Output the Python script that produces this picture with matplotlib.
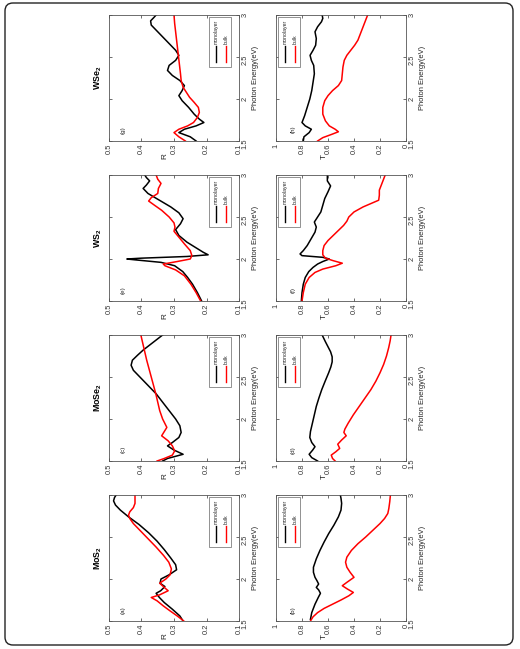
"""R and T spectra of monolayer vs bulk TMDs, drawn as a page turned 90 degrees.
Output : out.png
"""
import matplotlib
matplotlib.use("Agg")
import matplotlib.pyplot as plt
from matplotlib import font_manager
from matplotlib.lines import Line2D
from matplotlib.patches import Rectangle, FancyBboxPatch

names = {f.name for f in font_manager.fontManager.ttflist}
NARROW = "Liberation Sans Narrow" in names
FAM = "Liberation Sans Narrow" if NARROW else "Liberation Sans"
K = 1.0 if NARROW else 0.84
plt.rcParams.update({"font.family": [FAM, "DejaVu Sans"], "mathtext.fontset": "custom",
                     "mathtext.rm": FAM, "mathtext.bf": FAM + ":bold"})

# ---- data (energy in eV) ----
materials = [r"$\mathbf{MoS_2}$", r"$\mathbf{MoSe_2}$", r"$\mathbf{WS_2}$", r"$\mathbf{WSe_2}$"]
letters = [("(a)", "(b)"), ("(c)", "(d)"), ("(e)", "(f)"), ("(g)", "(h)")]

mos2_r_mono_e = [1.50, 1.56, 1.64, 1.72, 1.78, 1.83, 1.86, 1.91, 1.95, 2.00, 2.05, 2.11, 2.17, 2.25,
                 2.35, 2.45, 2.55, 2.65, 2.74, 2.82, 2.88, 2.93, 2.97, 3.00]
mos2_r_mono = [0.272, 0.282, 0.305, 0.330, 0.345, 0.355, 0.341, 0.328, 0.343, 0.340, 0.315, 0.292,
               0.295, 0.310, 0.330, 0.352, 0.378, 0.408, 0.440, 0.465, 0.480, 0.486, 0.483, 0.478]
mos2_r_bulk_e = [1.50, 1.56, 1.62, 1.68, 1.74, 1.78, 1.81, 1.86, 1.90, 1.95, 2.00, 2.05, 2.12, 2.20,
                 2.28, 2.38, 2.48, 2.58, 2.66, 2.72, 2.76, 2.80, 2.85, 2.90, 2.95, 3.00]
mos2_r_bulk = [0.270, 0.290, 0.312, 0.333, 0.352, 0.370, 0.345, 0.318, 0.330, 0.344, 0.325, 0.312,
               0.308, 0.316, 0.332, 0.355, 0.380, 0.405, 0.425, 0.436, 0.440, 0.436, 0.425, 0.420,
               0.420, 0.420]
mos2_t_mono_e = [1.52, 1.60, 1.70, 1.78, 1.83, 1.87, 1.90, 1.94, 1.98, 2.02, 2.08, 2.14, 2.24, 2.34,
                 2.44, 2.54, 2.64, 2.74, 2.82, 2.90, 2.96, 3.00]
mos2_t_mono = [0.735, 0.725, 0.700, 0.675, 0.658, 0.672, 0.690, 0.672, 0.685, 0.700, 0.712, 0.712,
               0.690, 0.662, 0.630, 0.595, 0.555, 0.520, 0.500, 0.495, 0.500, 0.505]
mos2_t_bulk_e = [1.50, 1.55, 1.60, 1.65, 1.70, 1.75, 1.80, 1.84, 1.88, 1.92, 1.96, 2.02, 2.08, 2.14,
                 2.20, 2.26, 2.34, 2.42, 2.50, 2.58, 2.66, 2.72, 2.78, 2.84, 2.92, 3.00]
mos2_t_bulk = [0.735, 0.715, 0.680, 0.630, 0.565, 0.500, 0.440, 0.405, 0.450, 0.490, 0.455, 0.400,
               0.430, 0.455, 0.465, 0.455, 0.420, 0.370, 0.310, 0.255, 0.200, 0.165, 0.140, 0.132,
               0.125, 0.120]

mose2_r_mono_e = [1.50, 1.53, 1.58, 1.63, 1.68, 1.72, 1.78, 1.84, 1.92, 2.00, 2.10, 2.20, 2.30, 2.40,
                  2.50, 2.58, 2.64, 2.70, 2.76, 2.82, 2.88, 2.94, 3.00]
mose2_r_mono = [0.335, 0.320, 0.272, 0.300, 0.320, 0.305, 0.285, 0.278, 0.282, 0.295, 0.315, 0.335,
                0.355, 0.380, 0.405, 0.425, 0.432, 0.428, 0.412, 0.395, 0.375, 0.355, 0.335]
mose2_r_bulk_e = [1.50, 1.53, 1.57, 1.62, 1.68, 1.74, 1.80, 1.85, 1.90, 2.00, 2.10, 2.20, 2.30, 2.40,
                  2.50, 2.60, 2.70, 2.80, 2.90, 3.00]
mose2_r_bulk = [0.352, 0.330, 0.305, 0.298, 0.305, 0.318, 0.338, 0.330, 0.322, 0.335, 0.344, 0.350,
                0.356, 0.363, 0.370, 0.377, 0.384, 0.390, 0.396, 0.402]
mose2_t_mono_e = [1.50, 1.54, 1.58, 1.63, 1.67, 1.72, 1.78, 1.85, 1.95, 2.05, 2.15, 2.25, 2.35, 2.45,
                  2.55, 2.62, 2.68, 2.74, 2.80, 2.86, 2.92, 3.00]
mose2_t_mono = [0.680, 0.725, 0.745, 0.718, 0.700, 0.725, 0.740, 0.735, 0.720, 0.705, 0.690, 0.670,
                0.648, 0.622, 0.595, 0.578, 0.568, 0.568, 0.580, 0.600, 0.620, 0.645]
mose2_t_bulk_e = [1.50, 1.53, 1.57, 1.61, 1.65, 1.70, 1.75, 1.80, 1.84, 1.88, 1.95, 2.05, 2.15, 2.25,
                  2.35, 2.45, 2.55, 2.65, 2.75, 2.85, 2.93, 3.00]
mose2_t_bulk = [0.545, 0.565, 0.575, 0.540, 0.510, 0.525, 0.495, 0.460, 0.478, 0.470, 0.445, 0.405,
                0.360, 0.315, 0.270, 0.232, 0.200, 0.172, 0.150, 0.133, 0.122, 0.115]

ws2_r_mono_e = [1.50, 1.60, 1.70, 1.78, 1.85, 1.92, 1.96, 1.99, 2.00, 2.01, 2.03, 2.05, 2.08, 2.14,
                2.20, 2.28, 2.35, 2.42, 2.48, 2.55, 2.62, 2.70, 2.78, 2.84, 2.88, 2.93, 2.97, 3.00]
ws2_r_mono = [0.215, 0.228, 0.243, 0.258, 0.273, 0.298, 0.340, 0.420, 0.445, 0.400, 0.260, 0.195,
              0.210, 0.235, 0.260, 0.285, 0.295, 0.280, 0.272, 0.285, 0.310, 0.345, 0.380, 0.395,
              0.385, 0.375, 0.385, 0.390]
ws2_r_bulk_e = [1.50, 1.60, 1.70, 1.80, 1.87, 1.92, 1.94, 1.97, 2.00, 2.04, 2.10, 2.18, 2.26, 2.33,
                2.38, 2.43, 2.50, 2.58, 2.64, 2.69, 2.73, 2.78, 2.84, 2.90, 2.95, 3.00]
ws2_r_bulk = [0.218, 0.232, 0.248, 0.268, 0.295, 0.328, 0.333, 0.290, 0.250, 0.245, 0.250, 0.268,
              0.285, 0.300, 0.297, 0.300, 0.315, 0.338, 0.360, 0.378, 0.370, 0.350, 0.348, 0.340,
              0.350, 0.355]
ws2_t_mono_e = [1.50, 1.60, 1.70, 1.78, 1.85, 1.90, 1.94, 1.97, 2.00, 2.02, 2.04, 2.06, 2.10, 2.16,
                2.24, 2.32, 2.38, 2.44, 2.50, 2.56, 2.64, 2.72, 2.80, 2.87, 2.93, 3.00]
ws2_t_mono = [0.805, 0.800, 0.790, 0.775, 0.748, 0.715, 0.680, 0.640, 0.590, 0.640, 0.800, 0.815,
              0.790, 0.760, 0.730, 0.700, 0.690, 0.705, 0.680, 0.655, 0.640, 0.625, 0.600, 0.580,
              0.605, 0.605]
ws2_t_bulk_e = [1.50, 1.60, 1.70, 1.78, 1.84, 1.88, 1.92, 1.95, 1.98, 2.01, 2.05, 2.10, 2.16, 2.22,
                2.28, 2.34, 2.40, 2.45, 2.50, 2.56, 2.62, 2.66, 2.70, 2.76, 2.82, 2.88, 2.94, 3.00]
ws2_t_bulk = [0.800, 0.790, 0.775, 0.745, 0.700, 0.640, 0.540, 0.490, 0.560, 0.620, 0.640, 0.640,
              0.630, 0.600, 0.560, 0.520, 0.480, 0.455, 0.440, 0.400, 0.330, 0.270, 0.210, 0.205,
              0.205, 0.190, 0.175, 0.160]

wse2_r_mono_e = [1.50, 1.55, 1.60, 1.64, 1.68, 1.72, 1.76, 1.82, 1.90, 1.98, 2.04, 2.10, 2.16, 2.22,
                 2.28, 2.34, 2.40, 2.46, 2.52, 2.58, 2.64, 2.72, 2.80, 2.88, 2.93, 2.97, 3.00]
wse2_r_mono = [0.232, 0.250, 0.285, 0.268, 0.232, 0.208, 0.222, 0.238, 0.255, 0.275, 0.285, 0.275,
               0.268, 0.282, 0.305, 0.320, 0.315, 0.295, 0.285, 0.295, 0.310, 0.330, 0.350, 0.370,
               0.372, 0.362, 0.355]
wse2_r_bulk_e = [1.50, 1.55, 1.60, 1.64, 1.68, 1.72, 1.78, 1.84, 1.90, 1.96, 2.02, 2.08, 2.14, 2.22,
                 2.30, 2.40, 2.50, 2.60, 2.70, 2.80, 2.90, 3.00]
wse2_r_bulk = [0.265, 0.285, 0.300, 0.285, 0.258, 0.240, 0.228, 0.222, 0.225, 0.238, 0.252, 0.262,
               0.272, 0.278, 0.280, 0.283, 0.286, 0.289, 0.292, 0.295, 0.298, 0.300]
wse2_t_mono_e = [1.50, 1.55, 1.60, 1.64, 1.68, 1.72, 1.80, 1.90, 2.00, 2.10, 2.20, 2.30, 2.40, 2.46,
                 2.52, 2.58, 2.64, 2.72, 2.80, 2.86, 2.92, 2.96, 3.00]
wse2_t_mono = [0.790, 0.785, 0.745, 0.728, 0.775, 0.800, 0.780, 0.760, 0.740, 0.725, 0.715, 0.705,
               0.710, 0.728, 0.738, 0.715, 0.695, 0.690, 0.700, 0.680, 0.650, 0.640, 0.645]
wse2_t_bulk_e = [1.50, 1.54, 1.58, 1.61, 1.64, 1.68, 1.74, 1.82, 1.90, 1.98, 2.04, 2.10, 2.16, 2.22,
                 2.30, 2.38, 2.46, 2.52, 2.58, 2.64, 2.70, 2.78, 2.86, 2.94, 3.00]
wse2_t_bulk = [0.680, 0.640, 0.570, 0.520, 0.545, 0.590, 0.620, 0.640, 0.640, 0.625, 0.600, 0.565,
               0.520, 0.495, 0.490, 0.485, 0.475, 0.455, 0.425, 0.395, 0.370, 0.350, 0.330, 0.310,
               0.295]

curves = [
    ((mos2_r_mono_e, mos2_r_mono, mos2_r_bulk_e, mos2_r_bulk),
     (mos2_t_mono_e, mos2_t_mono, mos2_t_bulk_e, mos2_t_bulk)),
    ((mose2_r_mono_e, mose2_r_mono, mose2_r_bulk_e, mose2_r_bulk),
     (mose2_t_mono_e, mose2_t_mono, mose2_t_bulk_e, mose2_t_bulk)),
    ((ws2_r_mono_e, ws2_r_mono, ws2_r_bulk_e, ws2_r_bulk),
     (ws2_t_mono_e, ws2_t_mono, ws2_t_bulk_e, ws2_t_bulk)),
    ((wse2_r_mono_e, wse2_r_mono, wse2_r_bulk_e, wse2_r_bulk),
     (wse2_t_mono_e, wse2_t_mono, wse2_t_bulk_e, wse2_t_bulk)),
]
r_ticks = [0.5, 0.4, 0.3, 0.2, 0.1]
t_ticks = [1, 0.8, 0.6, 0.4, 0.2, 0]
t_ticklabels = ["1", "0.8", "0.6", "0.4", "0.2", "0"]
e_ticks = [1.5, 2, 2.5, 3]
e_ticklabels = ["1.5", "2", "2.5", "3"]

W, H = 520, 649
fig = plt.figure(figsize=(W / 100, H / 100), dpi=100)
fig.patches.append(FancyBboxPatch((0.05, 0.04), 5.08, 6.42, boxstyle="round,pad=0,rounding_size=0.08",
                                  transform=fig.dpi_scale_trans, fill=False, ec="#222222", lw=1.0))

ROW_TOP = [495, 335, 175, 15]     # pixel top of each material's pair, MoS2 at the bottom
COL_LEFT = [109, 276]             # R panel, T panel
PW, PH = 130, 126
GRAY = "#555555"


def legend(ax, x0):
    ax.add_patch(Rectangle((x0, 0.59), 0.17, 0.395, transform=ax.transAxes, fill=True, fc="white",
                           ec="#666666", lw=0.5, zorder=5))
    for dx, col, lab in ((0.055, "k", "monolayer"), (0.13, "#ff0000", "bulk")):
        ax.add_line(Line2D([x0 + dx, x0 + dx], [0.625, 0.755], color=col, lw=1.0,
                           transform=ax.transAxes, zorder=6))
        ax.text(x0 + dx, 0.772, lab, rotation=90, ha="center", va="bottom", fontsize=4.4 * K,
                transform=ax.transAxes, zorder=6, color="#222222")


for i in range(4):
    for j in range(2):
        left = COL_LEFT[j] / W
        bottom = 1 - (ROW_TOP[i] + PH) / H
        ax = fig.add_axes([left, bottom, PW / W, PH / H])
        e1, v1, e2, v2 = curves[i][j]
        ax.plot(v1, e1, color="k", lw=1.1)
        ax.plot(v2, e2, color="#ff0000", lw=1.1)
        if j == 0:
            ax.set_xlim(0.5, 0.1)
            ax.set_xticks(r_ticks)
            ax.set_xticklabels([f"{t:.1f}" for t in r_ticks])
            ax.text(0.43, -0.10, "R", rotation=90, ha="center", va="top", fontsize=7.0 * K,
                    transform=ax.transAxes, color="#222222")
            ax.text(-0.035, 0.5, materials[i], rotation=90, ha="right", va="center",
                    fontsize=7.6 * K, transform=ax.transAxes)
            legend(ax, 0.77)
        else:
            ax.set_xlim(1, 0)
            ax.set_xticks(t_ticks)
            ax.set_xticklabels(t_ticklabels)
            ax.text(0.37, -0.10, "T", rotation=90, ha="center", va="top", fontsize=7.0 * K,
                    transform=ax.transAxes, color="#222222")
            legend(ax, 0.015)
        ax.set_ylim(1.5, 3)
        ax.set_yticks(e_ticks)
        ax.set_yticklabels(e_ticklabels)
        ax.yaxis.tick_right()
        ax.yaxis.set_label_position("right")
        ax.set_ylabel("Photon Energy(eV)", rotation=90, fontsize=6.4 * K, labelpad=2, color="#222222")
        ax.tick_params(direction="in", length=2.2, width=0.5, top=True, bottom=True, left=True,
                       right=True, labelsize=6.4 * K, labelrotation=90, pad=2, colors="#333333")
        for s in ax.spines.values():
            s.set_color(GRAY)
            s.set_linewidth(0.6)
        ax.text(0.11 if j == 0 else 0.13, 0.09, letters[i][j], rotation=90, ha="center",
                va="center", fontsize=5.4 * K, transform=ax.transAxes, color="#222222")

fig.savefig("out.png", dpi=100)
print("wrote out.png")
